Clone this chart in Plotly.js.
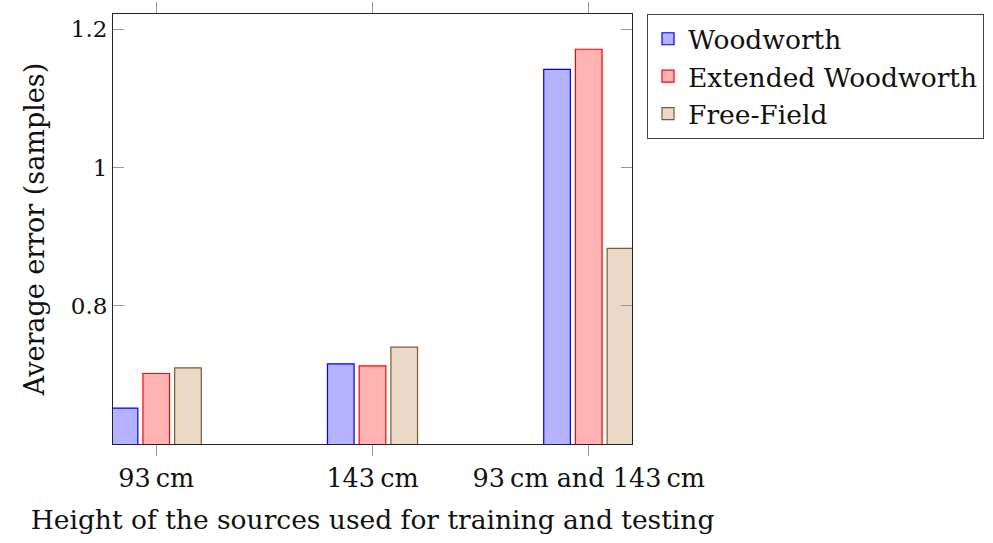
<!DOCTYPE html>
<html>
<head>
<meta charset="utf-8">
<script src="https://cdn.plot.ly/plotly-3.0.1.min.js"></script>
<style>
  html, body { margin: 0; padding: 0; background: #fff; }
  #chart { width: 993px; height: 543px; }
</style>
</head>
<body>
<div id="chart"></div>
<script>
// Source heights used for training and testing
const categories = ['93\u2009cm', '143\u2009cm', '93\u2009cm and 143\u2009cm'];

// Average error (samples) per model
const woodworth = [0.652, 0.716, 1.142];
const extendedWoodworth = [0.702, 0.713, 1.171];
const freeField = [0.710, 0.740, 0.883];

const seriesNames = ['Woodworth', 'Extended Woodworth', 'Free-Field'];

const FONT = 'DejaVu Serif';
const INK = '#111';

function barTrace(name, values, fill, edge) {
  return {
    type: 'bar',
    name: name,
    x: categories,
    y: values,
    marker: { color: fill, line: { color: edge, width: 1.2 } },
    hoverinfo: 'x+y+name'
  };
}

const data = [
  barTrace(seriesNames[0], woodworth, 'rgb(179,179,255)', 'rgb(0,0,255)'),
  barTrace(seriesNames[1], extendedWoodworth, 'rgb(255,179,179)', 'rgb(255,0,0)'),
  barTrace(seriesNames[2], freeField, 'rgb(234,217,198)', 'rgb(128,90,50)')
];

const layout = {
  width: 993,
  height: 543,
  margin: { l: 113, r: 361, t: 14, b: 99 },
  paper_bgcolor: '#fff',
  plot_bgcolor: '#fff',
  font: { family: FONT, size: 26, color: INK },
  barmode: 'group',
  bargap: 0.56,
  bargroupgap: 0.16,
  showlegend: true,
  legend: {
    xref: 'container', yref: 'container',
    x: 647 / 993, xanchor: 'left',
    y: 1 - 14 / 543, yanchor: 'top',
    bgcolor: '#fff',
    bordercolor: '#444',
    borderwidth: 1,
    font: { family: FONT, size: 26.5, color: INK },
    tracegroupgap: 0,
    itemwidth: 30
  },
  xaxis: {
    type: 'category',
    range: [-0.2, 2.2],
    showline: true,
    linecolor: '#222',
    linewidth: 1,
    mirror: 'ticks',
    ticks: 'outside',
    ticklen: 11,
    tickcolor: '#999',
    tickwidth: 1,
    showgrid: false,
    zeroline: false,
    ticklabelstandoff: 0,
    tickfont: { family: FONT, size: 25.5, color: INK },
    title: {
      text: 'Height of the sources used for training and testing',
      font: { family: FONT, size: 26.5, color: INK },
      standoff: 18
    }
  },
  yaxis: {
    range: [0.6, 1.222],
    tickvals: [0.8, 1, 1.2],
    ticktext: ['0.8', '1', '1.2'],
    showline: true,
    linecolor: '#222',
    linewidth: 1,
    mirror: 'ticks',
    ticks: 'inside',
    ticklen: 11,
    tickcolor: '#999',
    tickwidth: 1,
    showgrid: false,
    zeroline: false,
    ticklabelstandoff: 0,
    tickfont: { family: FONT, size: 23, color: INK },
    title: {
      text: 'Average error (samples)',
      font: { family: FONT, size: 27, color: INK },
      standoff: 18
    }
  }
};

Plotly.newPlot('chart', data, layout, { displayModeBar: false, staticPlot: true });
</script>
</body>
</html>
